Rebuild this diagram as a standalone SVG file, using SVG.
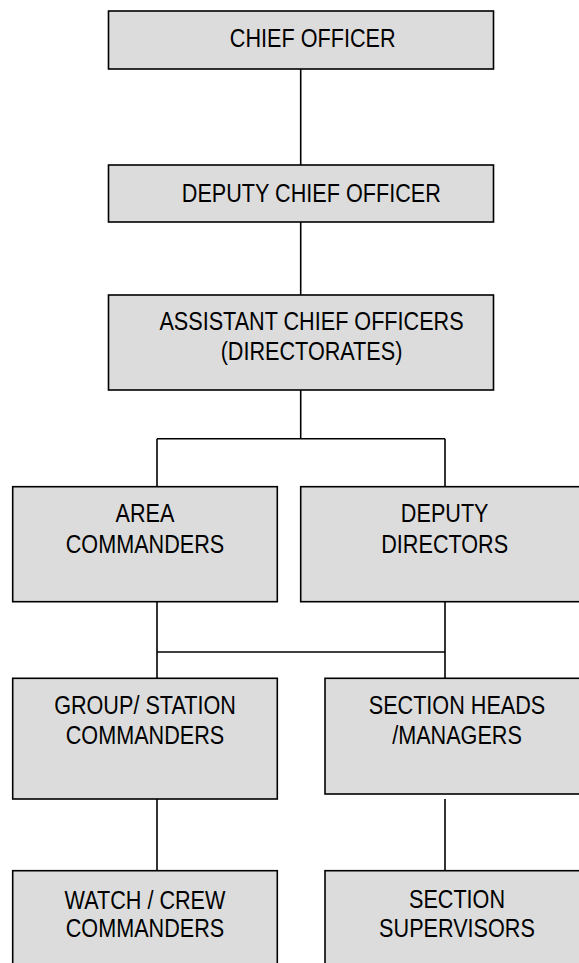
<svg xmlns="http://www.w3.org/2000/svg" width="579" height="963" viewBox="0 0 579 963">
<style>
.box{fill:#dcdcdc;stroke:#000;stroke-width:1.6}
.lbl{font-family:"Liberation Sans",Arial,sans-serif;font-size:25px;fill:#000;text-anchor:middle}
.conn{stroke:#000;stroke-width:1.6;fill:none}
</style>
<rect width="579" height="963" fill="#fff"/>
<g id="connectors">
<line class="conn" x1="300.7" y1="69" x2="300.7" y2="165"/>
<line class="conn" x1="300.7" y1="222" x2="300.7" y2="295"/>
<line class="conn" x1="300.7" y1="390" x2="300.7" y2="438.7"/>
<line class="conn" x1="157" y1="438.7" x2="445" y2="438.7"/>
<line class="conn" x1="157" y1="438.7" x2="157" y2="486.7"/>
<line class="conn" x1="445" y1="438.7" x2="445" y2="486.7"/>
<line class="conn" x1="157" y1="601.7" x2="157" y2="678.3"/>
<line class="conn" x1="445" y1="601.7" x2="445" y2="678.3"/>
<line class="conn" x1="157" y1="652" x2="445" y2="652"/>
<line class="conn" x1="157" y1="799" x2="157" y2="870.7"/>
<line class="conn" x1="445" y1="799" x2="445" y2="870.7"/>
</g>
<g id="chief">
<rect class="box" x="108.5" y="11" width="385" height="58"/>
<text class="lbl" transform="translate(312.7 46.7) scale(0.865 1)">CHIEF OFFICER</text>
</g>
<g id="deputy-chief">
<rect class="box" x="108.5" y="165" width="385" height="57"/>
<text class="lbl" transform="translate(311.3 201.7) scale(0.865 1)">DEPUTY CHIEF OFFICER</text>
</g>
<g id="assistant">
<rect class="box" x="108.5" y="295" width="385" height="95"/>
<text class="lbl" transform="translate(311.5 330) scale(0.865 1)"><tspan x="0" y="0">ASSISTANT CHIEF OFFICERS</tspan><tspan x="0" y="30">(DIRECTORATES)</tspan></text>
</g>
<g id="area">
<rect class="box" x="12.7" y="486.7" width="264.6" height="115"/>
<text class="lbl" transform="translate(145 522.3) scale(0.865 1)"><tspan x="0" y="0">AREA</tspan><tspan x="0" y="30.4">COMMANDERS</tspan></text>
</g>
<g id="deputy-directors">
<rect class="box" x="300.7" y="486.7" width="288" height="115"/>
<text class="lbl" transform="translate(444.7 522.3) scale(0.865 1)"><tspan x="0" y="0">DEPUTY</tspan><tspan x="0" y="30.4">DIRECTORS</tspan></text>
</g>
<g id="group-station">
<rect class="box" x="12.7" y="678.3" width="264.6" height="120.7"/>
<text class="lbl" transform="translate(145 714) scale(0.865 1)"><tspan x="0" y="0">GROUP/ STATION</tspan><tspan x="0" y="30.3">COMMANDERS</tspan></text>
</g>
<g id="section-heads">
<rect class="box" x="325" y="678.3" width="264" height="115.7"/>
<text class="lbl" transform="translate(457 714) scale(0.865 1)"><tspan x="0" y="0">SECTION HEADS</tspan><tspan x="0" y="30.5">/MANAGERS</tspan></text>
</g>
<g id="watch-crew">
<rect class="box" x="12.7" y="870.7" width="264.6" height="110"/>
<text class="lbl" transform="translate(145 909) scale(0.865 1)"><tspan x="0" y="0">WATCH / CREW</tspan><tspan x="0" y="28.5">COMMANDERS</tspan></text>
</g>
<g id="section-supervisors">
<rect class="box" x="325" y="870.7" width="264" height="110"/>
<text class="lbl" transform="translate(457 907.5) scale(0.865 1)"><tspan x="0" y="0">SECTION</tspan><tspan x="0" y="29.5">SUPERVISORS</tspan></text>
</g>
</svg>
